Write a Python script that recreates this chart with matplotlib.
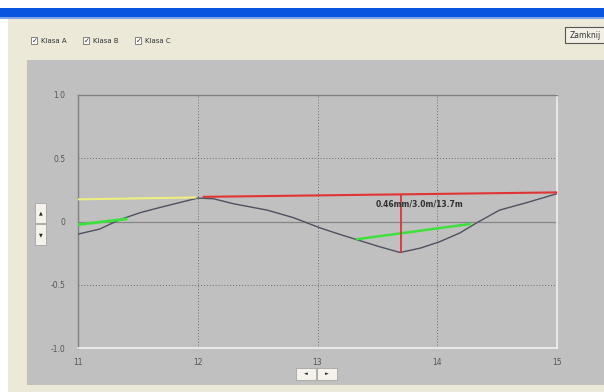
"""Profile view screenshot: deviation curve with class chords, 11-15 m."""

import matplotlib
matplotlib.use("Agg")
import matplotlib.pyplot as plt
from matplotlib.patches import Rectangle

# measured profile (dark curve)
profile_x = [11.0, 11.18, 11.35, 11.52, 11.68, 11.85, 12.0, 12.13, 12.3, 12.58, 12.8,
             13.02, 13.18, 13.35, 13.52, 13.69, 13.86, 14.02, 14.19, 14.33, 14.52, 14.75, 15.0]
profile_y = [-0.10, -0.06, 0.015, 0.07, 0.11, 0.15, 0.185, 0.18, 0.14, 0.09, 0.03,
             -0.05, -0.10, -0.15, -0.20, -0.245, -0.21, -0.16, -0.09, -0.01, 0.09, 0.15, 0.22]

# chords per class
yellow_x = [11.0, 11.98]
yellow_y = [0.175, 0.19]
red_x = [12.05, 15.0]
red_y = [0.195, 0.23]
green1_x = [11.0, 11.4]
green1_y = [-0.025, 0.02]
green2_x = [13.33, 14.27]
green2_y = [-0.14, -0.02]

# max deviation marker
dev_x = 13.7
dev_top = 0.205
dev_bottom = -0.245
dev_label = "0.46mm/3.0m/13.7m"

x_ticks = [11, 12, 13, 14, 15]
y_ticks = [1.0, 0.5, 0.0, -0.5, -1.0]
y_tick_labels = ["1.0", "0.5", "0", "-0.5", "-1.0"]
classes = ["Klasa A", "Klasa B", "Klasa C"]

W, H = 604, 392
PANEL = "#c0c0c0"
BEIGE = "#ece9d8"

fig = plt.figure(figsize=(W / 100, H / 100), dpi=100)
fig.patch.set_facecolor("white")


def px_rect(x0, y0, x1, y1, z=-10, **kw):
    # rectangle given in screen pixels (top-left origin)
    fig.add_artist(Rectangle((x0 / W, 1 - y1 / H), (x1 - x0) / W, (y1 - y0) / H,
                             transform=fig.transFigure, zorder=z, **kw))


# window chrome
px_rect(0, 8, W, 18, facecolor="#0a55e0", edgecolor="none")
px_rect(0, 17, W, 19, facecolor="#7fa6e8", edgecolor="none")
px_rect(8, 19, W, 392, facecolor=BEIGE, edgecolor="none")
px_rect(27, 60, W, 385, facecolor=PANEL, edgecolor="none")

# checkboxes
for i, name in enumerate(classes):
    bx = 31 + i * 52
    px_rect(bx, 37, bx + 6, 44, z=-5, facecolor="white", edgecolor="#555555", linewidth=0.5)
    fig.text((bx + 1) / W, 1 - 41 / H, "✓", fontsize=5, fontweight="bold", color="#222222",
             va="center", ha="left")
    fig.text((bx + 10) / W, 1 - 41 / H, name, fontsize=5, color="#333333", va="center", ha="left")

# close button
px_rect(565, 27, 610, 43, z=-5, facecolor="#f2f0e6", edgecolor="#555555", linewidth=0.8)
fig.text(570 / W, 1 - 35 / H, "Zamknij", fontsize=5.5, color="#333333", va="center", ha="left")

# scroll buttons
for y0, y1, arrow in [(203, 223, "▲"), (224, 245, "▼")]:
    px_rect(35, y0, 46, y1, z=-5, facecolor="#f4f2ea", edgecolor="#9a9a9a", linewidth=0.5)
    fig.text(40.5 / W, 1 - (y0 + y1) / 2 / H, arrow, fontsize=3.5, color="#222222",
             ha="center", va="center")
for x0, x1, arrow in [(296, 316, "◄"), (317, 337, "►")]:
    px_rect(x0, 368, x1, 380, z=-5, facecolor="#f4f2ea", edgecolor="#9a9a9a", linewidth=0.5)
    fig.text((x0 + x1) / 2 / W, 1 - 374 / H, arrow, fontsize=3.5, color="#222222",
             ha="center", va="center")

ax = fig.add_axes([78 / W, 1 - 348 / H, (557 - 78) / W, (348 - 95) / H])
ax.set_zorder(2)
ax.set_facecolor(PANEL)
ax.set_xlim(11, 15)
ax.set_ylim(-1, 1)

for gx in x_ticks[1:-1]:
    ax.axvline(gx, color="#6a6a6a", linestyle=(0, (1, 2)), linewidth=0.7, zorder=1)
for gy in [0.5, -0.5]:
    ax.axhline(gy, color="#6a6a6a", linestyle=(0, (1, 2)), linewidth=0.7, zorder=1)
ax.axhline(0, color="#858585", linewidth=0.9, zorder=1)

ax.plot(profile_x, profile_y, color="#505060", linewidth=1.0, zorder=3)
ax.plot(yellow_x, yellow_y, color="#eeee80", linewidth=1.5, zorder=4)
ax.plot(red_x, red_y, color="#e03434", linewidth=1.5, zorder=4)
ax.plot(green1_x, green1_y, color="#3ee03e", linewidth=2.0, zorder=4)
ax.plot(green2_x, green2_y, color="#3ee03e", linewidth=1.8, zorder=4)
ax.plot([dev_x, dev_x], [dev_top, dev_bottom], color="#e03434", linewidth=1.3, zorder=5)
ax.text(dev_x + 0.15, 0.135, dev_label, fontsize=5.5, fontweight="bold", color="#303030",
        ha="center", va="center", zorder=6)

ax.set_xticks(x_ticks)
ax.set_xticklabels([str(t) for t in x_ticks])
ax.set_yticks(y_ticks)
ax.set_yticklabels(y_tick_labels)
ax.tick_params(length=0, labelsize=5.5, labelcolor="#555555")
ax.tick_params(axis="x", pad=7)
ax.tick_params(axis="y", pad=9)

for side in ["top", "left"]:
    ax.spines[side].set_color("#808080")
    ax.spines[side].set_linewidth(1.0)
for side in ["bottom", "right"]:
    ax.spines[side].set_color("#f0f0f0")
    ax.spines[side].set_linewidth(1.2)

fig.savefig("out.png", dpi=100, facecolor=fig.get_facecolor())
